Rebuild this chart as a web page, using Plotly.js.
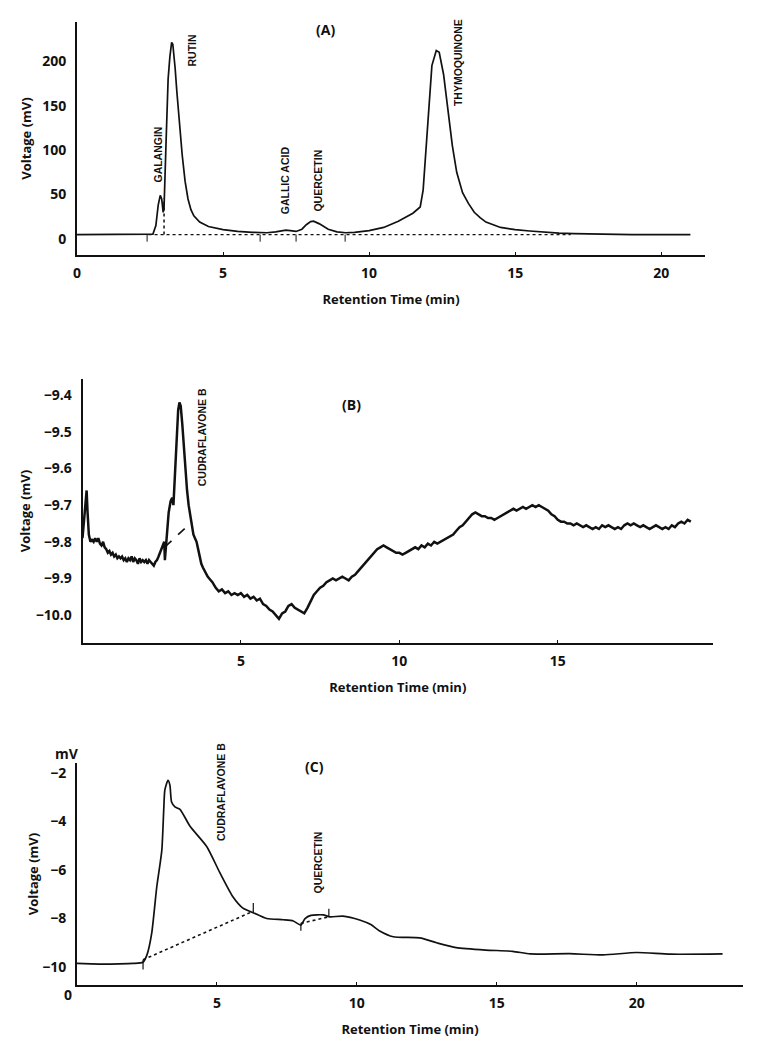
<!DOCTYPE html>
<html><head><meta charset="utf-8">
<script src="https://cdn.plot.ly/plotly-3.0.1.min.js"></script>
<style>html,body{margin:0;padding:0;background:#fff}#chart{width:757px;height:1048px}</style>
</head><body><div id="chart"></div>
<script>
// ---------- Panel A ----------
const A_time = [0,1,2,2.4,2.6,2.7,2.78,2.85,2.9,2.95,2.98,3.05,3.12,3.18,3.24,3.28,3.32,3.36,3.42,3.5,3.6,3.7,3.8,3.9,4.0,4.2,4.5,5,5.5,6,6.5,6.8,7.0,7.15,7.3,7.5,7.7,7.85,8.0,8.1,8.3,8.6,8.9,9.2,9.5,10,10.5,11,11.5,11.75,11.85,11.95,12.05,12.15,12.3,12.4,12.55,12.7,12.85,13.0,13.2,13.4,13.6,13.8,14.0,14.5,15,15.5,16,16.5,17,18,19,21];
const A_signal = [5,5,5,5,5.5,15,38,49,45,30,35,110,180,205,221,219,200,192,165,130,95,65,45,33,26,19,14,10.5,8.5,7.5,7,8,9.5,10,9.5,8.5,11,16,19.5,20,17,11,8,7,7.5,9.5,13,20,29,36,55,100,155,195,212,210,185,145,105,75,52,40,30,24,19,13,10.5,9,7.5,6.5,6,5.5,5,5];
const A_base_t = [2.45,16.9];
const A_base_v = [4.8,4.8];
const A_split_t = [2.98,2.98];
const A_split_v = [5,46];
const A_marks_t = [2.4,6.27,7.5,9.18];
const A_peaks = ["GALANGIN","RUTIN","GALLIC ACID","QUERCETIN","THYMOQUINONE"];
const A_peak_t = [2.74,3.94,7.12,8.26,13.05];
const A_peak_v = [95,212,66,66,198];
const A_xticks = [0,5,10,15,20];
const A_yticks = [0,50,100,150,200];

// ---------- Panel B ----------
const B_time = [0.00,0.05,0.10,0.13,0.16,0.20,0.25,0.30,0.35,0.40,0.45,0.50,0.55,0.60,0.65,0.70,0.75,0.80,0.85,0.90,0.95,1.00,1.05,1.10,1.15,1.20,1.25,1.30,1.35,1.40,1.45,1.50,1.55,1.60,1.65,1.70,1.75,1.80,1.85,1.90,1.95,2.00,2.05,2.10,2.15,2.20,2.25,2.30,2.35,2.40,2.45,2.50,2.55,2.58,2.60,2.63,2.67,2.72,2.78,2.83,2.87,2.92,2.97,3.02,3.06,3.10,3.15,3.20,3.25,3.30,3.35,3.40,3.45,3.50,3.55,3.60,3.65,3.70,3.75,3.80,3.85,3.90,3.95,4.00,4.10,4.20,4.30,4.40,4.50,4.60,4.70,4.80,4.90,5.00,5.10,5.20,5.30,5.40,5.50,5.60,5.70,5.80,5.90,6.00,6.10,6.20,6.30,6.40,6.50,6.60,6.70,6.80,6.90,7.00,7.10,7.20,7.30,7.40,7.50,7.60,7.70,7.80,7.90,8.00,8.10,8.20,8.30,8.40,8.50,8.60,8.70,8.80,8.90,9.00,9.10,9.20,9.30,9.40,9.50,9.60,9.70,9.80,9.90,10.00,10.10,10.20,10.30,10.40,10.50,10.60,10.70,10.80,10.90,11.00,11.10,11.20,11.30,11.40,11.50,11.60,11.70,11.80,11.90,12.00,12.10,12.20,12.30,12.40,12.50,12.60,12.70,12.80,12.90,13.00,13.10,13.20,13.30,13.40,13.50,13.60,13.70,13.80,13.90,14.00,14.10,14.20,14.30,14.40,14.50,14.60,14.70,14.80,14.90,15.00,15.10,15.20,15.30,15.40,15.50,15.60,15.70,15.80,15.90,16.00,16.10,16.20,16.30,16.40,16.50,16.60,16.70,16.80,16.90,17.00,17.10,17.20,17.30,17.40,17.50,17.60,17.70,17.80,17.90,18.00,18.10,18.20,18.30,18.40,18.50,18.60,18.70,18.80,18.90,19.00,19.10,19.20];
const B_signal = [-9.79,-9.74,-9.70,-9.66,-9.72,-9.78,-9.80,-9.795,-9.80,-9.79,-9.80,-9.79,-9.805,-9.81,-9.80,-9.815,-9.82,-9.83,-9.825,-9.835,-9.83,-9.84,-9.835,-9.845,-9.84,-9.845,-9.84,-9.85,-9.845,-9.855,-9.845,-9.85,-9.84,-9.855,-9.845,-9.85,-9.86,-9.845,-9.855,-9.85,-9.855,-9.85,-9.86,-9.85,-9.855,-9.86,-9.865,-9.855,-9.85,-9.84,-9.83,-9.82,-9.805,-9.80,-9.85,-9.82,-9.76,-9.72,-9.69,-9.68,-9.70,-9.62,-9.52,-9.44,-9.42,-9.43,-9.48,-9.55,-9.61,-9.66,-9.70,-9.73,-9.76,-9.78,-9.79,-9.80,-9.82,-9.84,-9.86,-9.87,-9.88,-9.89,-9.895,-9.90,-9.91,-9.925,-9.935,-9.93,-9.94,-9.935,-9.945,-9.94,-9.945,-9.94,-9.95,-9.945,-9.955,-9.95,-9.96,-9.955,-9.97,-9.975,-9.985,-9.99,-10.00,-10.01,-9.995,-9.99,-9.975,-9.97,-9.98,-9.985,-9.99,-9.995,-9.98,-9.96,-9.945,-9.935,-9.925,-9.92,-9.91,-9.905,-9.90,-9.905,-9.90,-9.895,-9.90,-9.905,-9.895,-9.89,-9.88,-9.87,-9.86,-9.85,-9.84,-9.83,-9.82,-9.815,-9.81,-9.815,-9.82,-9.825,-9.83,-9.83,-9.835,-9.83,-9.825,-9.82,-9.815,-9.82,-9.81,-9.815,-9.805,-9.81,-9.80,-9.805,-9.80,-9.795,-9.79,-9.785,-9.78,-9.77,-9.76,-9.755,-9.745,-9.735,-9.725,-9.72,-9.725,-9.73,-9.73,-9.735,-9.735,-9.74,-9.735,-9.73,-9.725,-9.72,-9.715,-9.71,-9.715,-9.71,-9.705,-9.71,-9.705,-9.70,-9.705,-9.70,-9.705,-9.71,-9.715,-9.725,-9.73,-9.74,-9.745,-9.745,-9.75,-9.75,-9.755,-9.75,-9.755,-9.76,-9.755,-9.76,-9.765,-9.76,-9.765,-9.755,-9.76,-9.755,-9.76,-9.765,-9.76,-9.765,-9.755,-9.75,-9.755,-9.75,-9.755,-9.76,-9.755,-9.76,-9.765,-9.76,-9.755,-9.76,-9.765,-9.76,-9.765,-9.755,-9.76,-9.75,-9.745,-9.75,-9.74,-9.745];
const B_base_t = [2.6,3.45];
const B_base_v = [-9.814,-9.746];
const B_peaks = ["CUDRAFLAVONE B"];
const B_peak_t = [3.77];
const B_peak_v = [-9.515];
const B_xticks = [5,10,15];
const B_yticks = [-9.4,-9.5,-9.6,-9.7,-9.8,-9.9,-10.0];

// ---------- Panel C ----------
const C_time = [0,0.5,1,1.5,2,2.36,2.5,2.67,2.85,3.03,3.1,3.14,3.25,3.32,3.38,3.5,3.68,4.04,4.64,5.1,5.57,5.93,6.3,6.78,7.37,7.73,8.0,8.15,8.36,8.8,9.04,9.5,10.1,10.5,10.8,11.3,12.25,12.85,13.55,14.6,15.57,16.2,17.6,18.8,20,21.2,23.07];
const C_signal = [-9.85,-9.87,-9.88,-9.87,-9.85,-9.8,-9.5,-8.6,-6.7,-5.2,-3.5,-2.7,-2.3,-2.5,-3.2,-3.4,-3.5,-4.2,-5.04,-6.1,-7.1,-7.57,-7.76,-8.0,-8.05,-8.1,-8.27,-8.0,-7.87,-7.85,-7.93,-7.9,-8.06,-8.25,-8.5,-8.75,-8.8,-9.0,-9.2,-9.3,-9.35,-9.46,-9.45,-9.5,-9.4,-9.47,-9.46];
const C_base1_t = [2.36,6.3];
const C_base1_v = [-9.7,-7.7];
const C_base2_t = [8.0,9.0];
const C_base2_v = [-8.2,-7.93];
const C_marks_t = [2.36,6.3,8.0,9.0];
const C_marks_lo = [-10.1,-7.77,-8.5,-7.93];
const C_marks_hi = [-9.7,-7.36,-8.2,-7.6];
const C_peaks = ["CUDRAFLAVONE B","QUERCETIN"];
const C_peak_t = [5.17,8.6];
const C_peak_v = [-2.8,-5.7];
const C_xticks = [5,10,15,20];
const C_yticks = [-2,-4,-6,-8,-10];

const INK = '#111';
const tickFont = {family:'"Open Sans", sans-serif', size:14, color:INK, weight:700};
const titleFont = {family:'"Open Sans", sans-serif', size:13, color:INK, weight:700};
const labelFont = {family:'"Liberation Sans", Arial, sans-serif', size:10.5, color:INK, weight:700};

function segs(ts, lo, hi){ const x=[],y=[]; ts.forEach((t,i)=>{x.push(t,t,null);y.push(Array.isArray(lo)?lo[i]:lo, Array.isArray(hi)?hi[i]:hi, null);}); return {x,y}; }

const mA = segs(A_marks_t, 5, -3);
const mC = segs(C_marks_t, C_marks_lo, C_marks_hi);

const traces = [
  {x:A_time, y:A_signal, xaxis:'x', yaxis:'y', mode:'lines', line:{color:INK, width:1.7}},
  {x:A_base_t, y:A_base_v, xaxis:'x', yaxis:'y', mode:'lines', line:{color:INK, width:1.3, dash:'dot'}},
  {x:A_split_t, y:A_split_v, xaxis:'x', yaxis:'y', mode:'lines', line:{color:INK, width:1.5, dash:'dot'}},
  {x:mA.x, y:mA.y, xaxis:'x', yaxis:'y', mode:'lines', line:{color:INK, width:1}},
  {x:B_time, y:B_signal, xaxis:'x2', yaxis:'y2', mode:'lines', line:{color:INK, width:2.5}},
  {x:B_base_t, y:B_base_v, xaxis:'x2', yaxis:'y2', mode:'lines', line:{color:INK, width:1.6, dash:'dash'}},
  {x:C_time, y:C_signal, xaxis:'x3', yaxis:'y3', mode:'lines', line:{color:INK, width:1.7, shape:'spline', smoothing:0.6}},
  {x:C_base1_t, y:C_base1_v, xaxis:'x3', yaxis:'y3', mode:'lines', line:{color:INK, width:1.6, dash:'dot'}},
  {x:C_base2_t, y:C_base2_v, xaxis:'x3', yaxis:'y3', mode:'lines', line:{color:INK, width:1.6, dash:'dot'}},
  {x:mC.x, y:mC.y, xaxis:'x3', yaxis:'y3', mode:'lines', line:{color:INK, width:1.2}}
];

const W=757, H=1048;
const dx=(a,b)=>[a/W,b/W];
const dy=(top,bot)=>[1-bot/H,1-top/H];

function xax(dom, range, ticks, anchor){
  return {domain:dom, range:range, anchor:anchor, tickvals:ticks, showgrid:false, zeroline:false,
    showline:true, linecolor:INK, linewidth:2, ticks:'inside', ticklen:3, tickcolor:INK,
    tickfont:tickFont, ticklabelstandoff:4,
    title:{text:'Retention Time (min)', font:titleFont, standoff:14}};
}
function yax(dom, range, ticks, anchor, fmt, standoff){
  return {domain:dom, range:range, anchor:anchor, tickvals:ticks, tickformat:fmt, showgrid:false, zeroline:false,
    showline:true, linecolor:INK, linewidth:2, ticks:'', tickfont:tickFont, ticklabelstandoff:6,
    title:{text:'Voltage (mV)', font:titleFont, standoff:standoff}};
}

const annotations = [];
function peakLabels(names, ts, vs, xr, yr){
  names.forEach((n,i)=>annotations.push({text:n, x:ts[i], y:vs[i], xref:xr, yref:yr, textangle:-90,
    showarrow:false, xanchor:'center', yanchor:'middle', font:labelFont}));
}
peakLabels(A_peaks, A_peak_t, A_peak_v, 'x', 'y');
peakLabels(B_peaks, B_peak_t, B_peak_v, 'x2', 'y2');
peakLabels(C_peaks, C_peak_t, C_peak_v, 'x3', 'y3');
const panelFont = {family:'"Open Sans", sans-serif', size:14, color:INK, weight:700};
annotations.push({text:'(A)', x:8.5, y:236, xref:'x', yref:'y', showarrow:false, font:panelFont});
annotations.push({text:'(B)', x:8.5, y:-9.425, xref:'x2', yref:'y2', showarrow:false, font:panelFont});
annotations.push({text:'(C)', x:8.5, y:-1.75, xref:'x3', yref:'y3', showarrow:false, font:panelFont});
annotations.push({text:'mV', x:67/W, y:1-753/H, xref:'paper', yref:'paper', xanchor:'center', yanchor:'middle', showarrow:false, font:tickFont});
annotations.push({text:'0', x:68/W, y:1-994/H, xref:'paper', yref:'paper', xanchor:'center', yanchor:'middle', showarrow:false, font:tickFont});

const layout = {
  width:W, height:H, margin:{l:0,r:0,t:0,b:0}, paper_bgcolor:'#fff', plot_bgcolor:'#fff', showlegend:false,
  xaxis: xax(dx(77,705), [0,21.5], A_xticks, 'y'),
  yaxis: yax(dy(22,255), [-18,244], A_yticks, 'x', '', 8),
  xaxis2: xax(dx(82.5,713), [0,19.9], B_xticks, 'y2'),
  yaxis2: yax(dy(379,643), [-10.076,-9.356], B_yticks, 'x2', '.1f', 2),
  xaxis3: xax(dx(77,743), [0,23.8], C_xticks, 'y3'),
  yaxis3: yax(dy(763,985), [-10.74,-1.59], C_yticks, 'x3', '', 1),
  annotations: annotations
};
Plotly.newPlot('chart', traces, layout, {staticPlot:true, displayModeBar:false});
</script></body></html>
